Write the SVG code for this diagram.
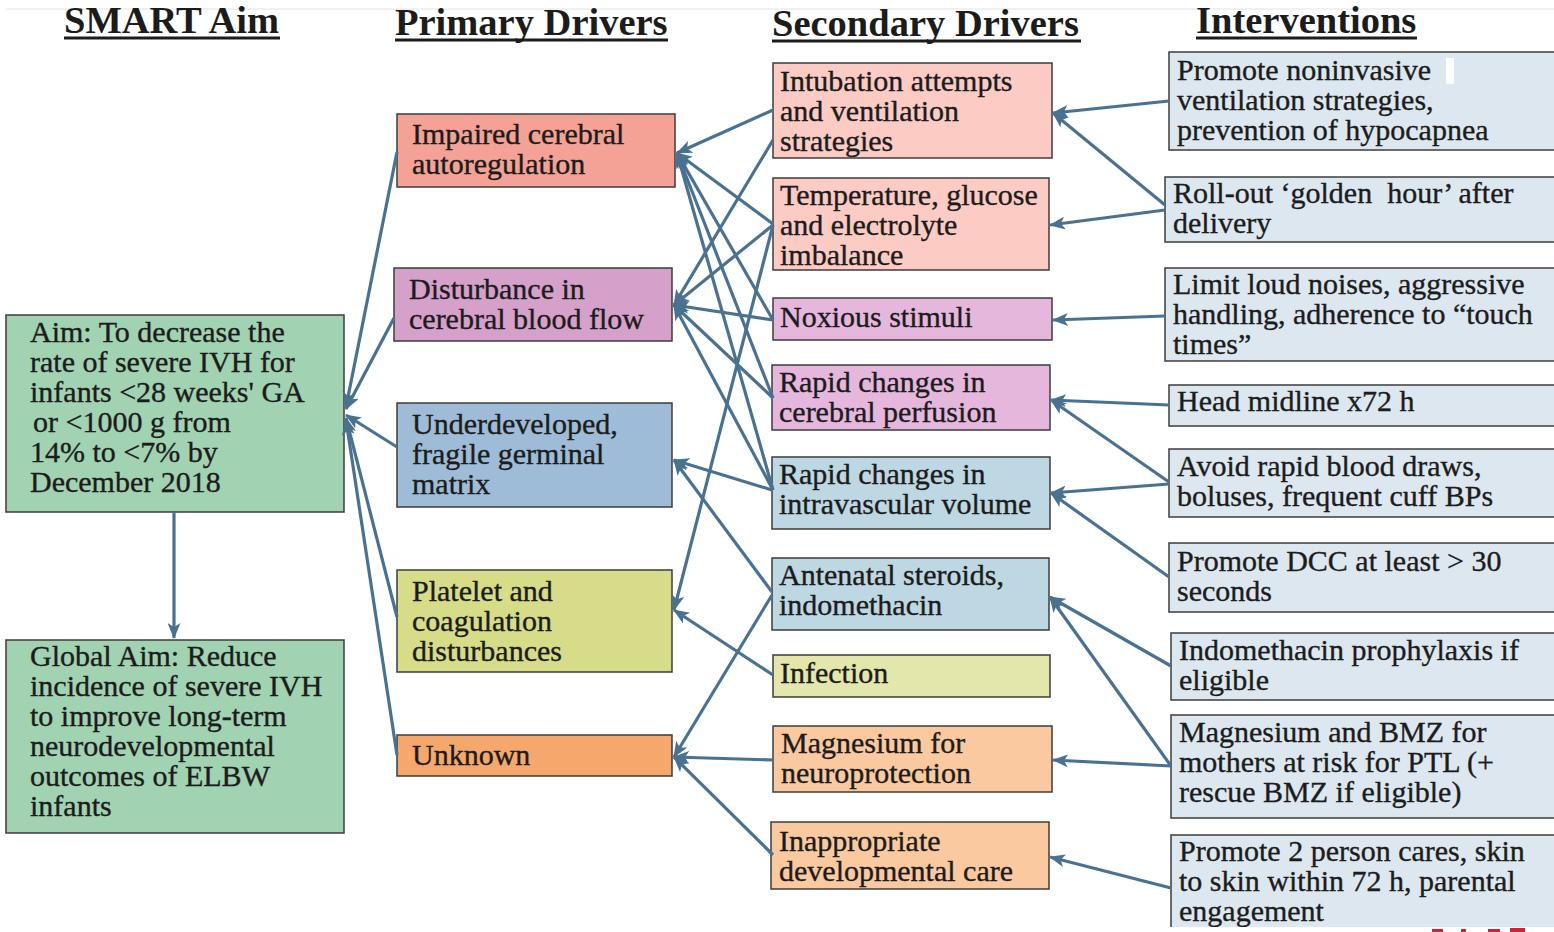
<svg xmlns="http://www.w3.org/2000/svg" width="1554" height="932" viewBox="0 0 1554 932">
  <style>
    .box { stroke: #3c3c3c; stroke-width: 1.5; }
    .t { font-family: "Liberation Serif", "Times New Roman", serif; font-size: 30px; fill: #1c1c1c; stroke: #1c1c1c; stroke-width: 0.35; }
    .h { font-family: "Liberation Serif", "Times New Roman", serif; font-size: 38.5px; font-weight: bold; fill: #1c1c1c; }
    .ul { stroke: #1c1c1c; stroke-width: 3; }
    .aim { fill: #a1d2b2; }
    .p1 { fill: #f4a196; }
    .p2 { fill: #d5a0ca; }
    .p3 { fill: #9ebcd7; }
    .p4 { fill: #d6dc88; }
    .p5 { fill: #f6a76c; }
    .sred { fill: #fbcbc4; }
    .spur { fill: #e5b7dd; }
    .sblu { fill: #bdd7e3; }
    .sgrn { fill: #e3e7ac; }
    .sorg { fill: #fbc9a0; }
    .int { fill: #dde7ef; }
    .c { stroke: #4a7290; stroke-width: 3.2; fill: none; marker-end: url(#arr); }
  </style>
  <defs>
    <marker id="arr" markerUnits="userSpaceOnUse" markerWidth="17" markerHeight="13" refX="15" refY="6.5" orient="auto">
      <path d="M0,0 L16,6.5 L0,13 L4,6.5 z" fill="#4a7290"/>
    </marker>
  </defs>

  <rect width="1554" height="932" fill="#ffffff"/>
  <line x1="6" y1="9" x2="1554" y2="9" stroke="#e2e2e2" stroke-width="1"/>

  <!-- column headings -->
  <g id="headings">
    <text class="h" x="64" y="33">SMART Aim</text>
    <line class="ul" x1="64" y1="38" x2="280" y2="38"/>
    <text class="h" x="395" y="35">Primary Drivers</text>
    <line class="ul" x1="395" y1="40" x2="668" y2="40"/>
    <text class="h" x="772" y="36">Secondary Drivers</text>
    <line class="ul" x1="772" y1="41" x2="1081" y2="41"/>
    <text class="h" x="1196" y="33">Interventions</text>
    <line class="ul" x1="1196" y1="38" x2="1417" y2="38"/>
  </g>

  <!-- aims -->
  <g id="aim">
    <rect class="box aim" x="6" y="315" width="338" height="197"/>
    <text class="t" x="30" y="342">Aim: To decrease the</text>
    <text class="t" x="30" y="372">rate of severe IVH for</text>
    <text class="t" x="30" y="402">infants &lt;28 weeks' GA</text>
    <text class="t" x="33" y="432">or &lt;1000 g from</text>
    <text class="t" x="30" y="462">14% to &lt;7% by</text>
    <text class="t" x="30" y="492">December 2018</text>
  </g>
  <g id="global-aim">
    <rect class="box aim" x="6" y="640" width="338" height="193"/>
    <text class="t" x="30" y="666">Global Aim: Reduce</text>
    <text class="t" x="30" y="696">incidence of severe IVH</text>
    <text class="t" x="30" y="726">to improve long-term</text>
    <text class="t" x="30" y="756">neurodevelopmental</text>
    <text class="t" x="30" y="786">outcomes of ELBW</text>
    <text class="t" x="30" y="816">infants</text>
  </g>

  <!-- primary drivers -->
  <g id="primary-autoregulation">
    <rect class="box p1" x="397" y="114" width="278" height="73"/>
    <text class="t" x="412" y="144">Impaired cerebral</text>
    <text class="t" x="412" y="174">autoregulation</text>
  </g>
  <g id="primary-blood-flow">
    <rect class="box p2" x="394" y="268" width="278" height="73"/>
    <text class="t" x="409" y="299">Disturbance in</text>
    <text class="t" x="409" y="329">cerebral blood flow</text>
  </g>
  <g id="primary-germinal-matrix">
    <rect class="box p3" x="397" y="403" width="275" height="104"/>
    <text class="t" x="412" y="434">Underdeveloped,</text>
    <text class="t" x="412" y="464">fragile germinal</text>
    <text class="t" x="412" y="494">matrix</text>
  </g>
  <g id="primary-coagulation">
    <rect class="box p4" x="397" y="570" width="275" height="102"/>
    <text class="t" x="412" y="601">Platelet and</text>
    <text class="t" x="412" y="631">coagulation</text>
    <text class="t" x="412" y="661">disturbances</text>
  </g>
  <g id="primary-unknown">
    <rect class="box p5" x="397" y="735" width="275" height="41"/>
    <text class="t" x="412" y="765">Unknown</text>
  </g>

  <!-- secondary drivers -->
  <g id="secondary-intubation">
    <rect class="box sred" x="773" y="63" width="279" height="95"/>
    <text class="t" x="780" y="91">Intubation attempts</text>
    <text class="t" x="780" y="121">and ventilation</text>
    <text class="t" x="780" y="151">strategies</text>
  </g>
  <g id="secondary-temperature">
    <rect class="box sred" x="773" y="178" width="276" height="92"/>
    <text class="t" x="780" y="205">Temperature, glucose</text>
    <text class="t" x="780" y="235">and electrolyte</text>
    <text class="t" x="780" y="265">imbalance</text>
  </g>
  <g id="secondary-noxious">
    <rect class="box spur" x="773" y="298" width="279" height="42"/>
    <text class="t" x="780" y="327">Noxious stimuli</text>
  </g>
  <g id="secondary-perfusion">
    <rect class="box spur" x="772" y="365" width="278" height="65"/>
    <text class="t" x="779" y="392">Rapid changes in</text>
    <text class="t" x="779" y="422">cerebral perfusion</text>
  </g>
  <g id="secondary-volume">
    <rect class="box sblu" x="772" y="457" width="278" height="72"/>
    <text class="t" x="779" y="484">Rapid changes in</text>
    <text class="t" x="779" y="514">intravascular volume</text>
  </g>
  <g id="secondary-antenatal">
    <rect class="box sblu" x="772" y="558" width="277" height="72"/>
    <text class="t" x="779" y="585">Antenatal steroids,</text>
    <text class="t" x="779" y="615">indomethacin</text>
  </g>
  <g id="secondary-infection">
    <rect class="box sgrn" x="773" y="655" width="277" height="42"/>
    <text class="t" x="780" y="683">Infection</text>
  </g>
  <g id="secondary-magnesium">
    <rect class="box sorg" x="773" y="726" width="279" height="66"/>
    <text class="t" x="781" y="753">Magnesium for</text>
    <text class="t" x="781" y="783">neuroprotection</text>
  </g>
  <g id="secondary-developmental-care">
    <rect class="box sorg" x="771" y="822" width="278" height="67"/>
    <text class="t" x="779" y="851">Inappropriate</text>
    <text class="t" x="779" y="881">developmental care</text>
  </g>

  <!-- interventions -->
  <g id="int-ventilation">
    <rect class="box int" x="1169" y="52" width="400" height="98"/>
    <rect x="1446" y="58" width="8" height="26" fill="#ffffff"/>
    <text class="t" x="1177" y="80">Promote noninvasive</text>
    <text class="t" x="1177" y="110">ventilation strategies,</text>
    <text class="t" x="1177" y="140">prevention of hypocapnea</text>
  </g>
  <g id="int-golden-hour">
    <rect class="box int" x="1165" y="177" width="400" height="65"/>
    <text class="t" x="1173" y="203">Roll-out ‘golden&#160; hour’ after</text>
    <text class="t" x="1173" y="233">delivery</text>
  </g>
  <g id="int-noise">
    <rect class="box int" x="1165" y="268" width="400" height="93"/>
    <text class="t" x="1173" y="294">Limit loud noises, aggressive</text>
    <text class="t" x="1173" y="324">handling, adherence to “touch</text>
    <text class="t" x="1173" y="354">times”</text>
  </g>
  <g id="int-head-midline">
    <rect class="box int" x="1169" y="385" width="400" height="41"/>
    <text class="t" x="1177" y="411">Head midline x72 h</text>
  </g>
  <g id="int-blood-draws">
    <rect class="box int" x="1169" y="449" width="400" height="68"/>
    <text class="t" x="1177" y="476">Avoid rapid blood draws,</text>
    <text class="t" x="1177" y="506">boluses, frequent cuff BPs</text>
  </g>
  <g id="int-dcc">
    <rect class="box int" x="1169" y="543" width="400" height="69"/>
    <text class="t" x="1177" y="571">Promote DCC at least &gt; 30</text>
    <text class="t" x="1177" y="601">seconds</text>
  </g>
  <g id="int-indomethacin">
    <rect class="box int" x="1171" y="633" width="400" height="67"/>
    <text class="t" x="1179" y="660">Indomethacin prophylaxis if</text>
    <text class="t" x="1179" y="690">eligible</text>
  </g>
  <g id="int-magnesium-bmz">
    <rect class="box int" x="1171" y="715" width="400" height="103"/>
    <text class="t" x="1179" y="742">Magnesium and BMZ for</text>
    <text class="t" x="1179" y="772">mothers at risk for PTL (+</text>
    <text class="t" x="1179" y="802">rescue BMZ if eligible)</text>
  </g>
  <g id="int-two-person-care">
    <rect class="box int" x="1171" y="835" width="400" height="120"/>
    <text class="t" x="1179" y="861">Promote 2 person cares, skin</text>
    <text class="t" x="1179" y="891">to skin within 72 h, parental</text>
    <text class="t" x="1179" y="921">engagement</text>
  </g>
  <rect x="1160" y="927" width="394" height="5" fill="#ffffff"/>
  <g fill="#d0203a">
    <rect x="1432" y="929" width="11" height="3"/>
    <rect x="1461" y="929" width="5" height="3"/>
    <rect x="1488" y="929" width="12" height="3"/>
    <rect x="1510" y="928" width="15" height="4"/>
  </g>

  <!-- connectors -->
  <g id="connectors">
    <!-- primary drivers to aim -->
    <line class="c" x1="397" y1="152" x2="346" y2="407"/>
    <line class="c" x1="394" y1="318" x2="346" y2="409"/>
    <line class="c" x1="397" y1="447" x2="346" y2="415"/>
    <line class="c" x1="397" y1="617" x2="346" y2="418"/>
    <line class="c" x1="397" y1="755" x2="346" y2="420"/>
    <!-- aim to global aim -->
    <line class="c" x1="174" y1="512" x2="174" y2="638"/>

    <!-- secondary drivers to primary drivers -->
    <line class="c" x1="773" y1="110" x2="677" y2="153"/>
    <line class="c" x1="773" y1="224" x2="677" y2="153"/>
    <line class="c" x1="773" y1="320" x2="677" y2="153"/>
    <line class="c" x1="773" y1="398" x2="677" y2="153"/>
    <line class="c" x1="773" y1="490" x2="677" y2="153"/>

    <line class="c" x1="773" y1="140" x2="674" y2="305"/>
    <line class="c" x1="773" y1="225" x2="674" y2="305"/>
    <line class="c" x1="773" y1="320" x2="674" y2="305"/>
    <line class="c" x1="773" y1="398" x2="674" y2="305"/>
    <line class="c" x1="773" y1="490" x2="674" y2="305"/>

    <line class="c" x1="772" y1="490" x2="674" y2="460"/>
    <line class="c" x1="772" y1="592" x2="674" y2="460"/>

    <line class="c" x1="773" y1="225" x2="674" y2="610"/>
    <line class="c" x1="773" y1="675" x2="674" y2="610"/>

    <line class="c" x1="772" y1="595" x2="674" y2="757"/>
    <line class="c" x1="773" y1="760" x2="674" y2="757"/>
    <line class="c" x1="773" y1="855" x2="674" y2="757"/>

    <!-- interventions to secondary drivers -->
    <line class="c" x1="1169" y1="101" x2="1053" y2="113"/>
    <line class="c" x1="1165" y1="205" x2="1053" y2="113"/>
    <line class="c" x1="1165" y1="210" x2="1050" y2="225"/>
    <line class="c" x1="1165" y1="316" x2="1053" y2="320"/>
    <line class="c" x1="1169" y1="405" x2="1051" y2="400"/>
    <line class="c" x1="1169" y1="482" x2="1051" y2="400"/>
    <line class="c" x1="1169" y1="484" x2="1051" y2="493"/>
    <line class="c" x1="1169" y1="577" x2="1051" y2="493"/>
    <line class="c" x1="1171" y1="666" x2="1050" y2="597"/>
    <line class="c" x1="1171" y1="766" x2="1050" y2="597"/>
    <line class="c" x1="1171" y1="766" x2="1053" y2="760"/>
    <line class="c" x1="1171" y1="888" x2="1050" y2="857"/>
  </g>
</svg>
